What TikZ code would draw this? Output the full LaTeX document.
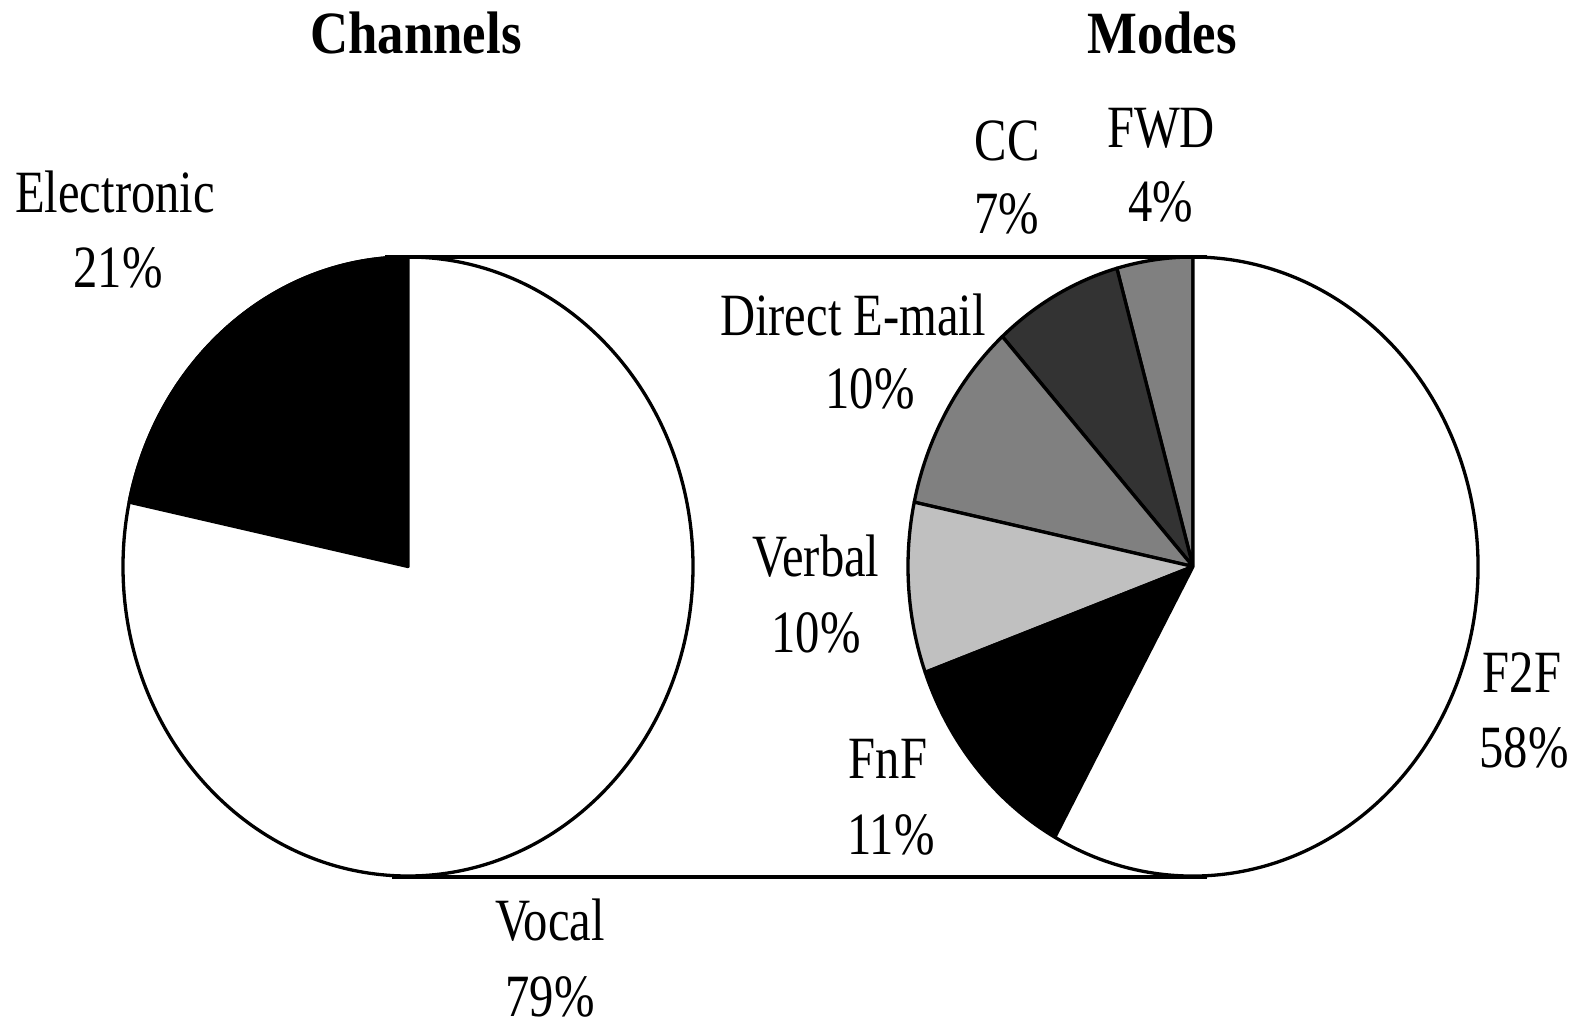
\documentclass[tikz,border=0pt]{standalone}
\usepackage{fontspec}
\setmainfont{Liberation Serif}
\usepackage{graphicx}
\definecolor{gmid}{gray}{0.502}
\definecolor{gdark}{gray}{0.2}
\definecolor{glight}{gray}{0.753}
\newcommand\nar[1]{\scalebox{0.81}[1]{#1}}
\newcommand\narb[1]{\scalebox{0.88}[1]{#1}}
\newcommand\pieslice[4]{\filldraw[pieline, fill=#4] (#1) -- ++(#2:285pt and 309.5pt) arc[start angle=#2, end angle=#3, x radius=285pt, y radius=309.5pt] -- cycle;}
\tikzset{
  lbl/.style={font=\fontsize{60}{75}\selectfont, anchor=base, inner sep=0pt},
  ttl/.style={font=\fontsize{60}{75}\selectfont\bfseries, anchor=base, inner sep=0pt},
  pieline/.style={line width=3.3pt, line join=round, draw=black},
}
\begin{document}
\begin{tikzpicture}[x=1pt,y=1pt]
\useasboundingbox[fill=white] (0,0) rectangle (1583,-1018);
\coordinate (L) at (408,-566.5);
\coordinate (R) at (1193,-566.5);
% left pie (Channels)
\filldraw[pieline, fill=white] (L) ellipse [x radius=285pt, y radius=309.5pt];
\pieslice{L}{90}{168}{black}
% right pie (Modes)
\pieslice{R}{90}{105.5}{gmid}
\pieslice{R}{105.5}{132}{gdark}
\pieslice{R}{132}{168}{gmid}
\pieslice{R}{168}{200}{glight}
\pieslice{R}{200}{241}{black}
\pieslice{R}{241}{450}{white}
% connecting lines
\coordinate (t1) at (385,-257);
\coordinate (t2) at (1207,-257);
\coordinate (b1) at (392,-877);
\coordinate (b2) at (1207,-877);
\draw[pieline] (t1) -- (t2);
\draw[pieline] (b1) -- (b2);
% titles
\node[ttl] (chan) at (416,-53) {\narb{Channels}};
\node[ttl] (mode) at (1162,-53) {\narb{Modes}};
% labels
\node[lbl] (el1) at (115,-212) {\nar{Electronic}};
\node[lbl] (el2) at (118,-287) {\nar{21\%}};
\node[lbl] (vo1) at (550,-940) {\nar{Vocal}};
\node[lbl] (vo2) at (550,-1016) {\nar{79\%}};
\node[lbl] (cc1) at (1007,-160) {\nar{CC}};
\node[lbl] (cc2) at (1007,-233) {\nar{7\%}};
\node[lbl] (fw1) at (1161,-147) {\nar{FWD}};
\node[lbl] (fw2) at (1161,-221) {\nar{4\%}};
\node[lbl] (de1) at (853,-335) {\nar{Direct E-mail}};
\node[lbl] (de2) at (870,-408) {\nar{10\%}};
\node[lbl] (ve1) at (816,-576) {\nar{Verbal}};
\node[lbl] (ve2) at (816,-652) {\nar{10\%}};
\node[lbl] (fn1) at (888,-778) {\nar{FnF}};
\node[lbl] (fn2) at (891,-854) {\nar{11\%}};
\node[lbl] (ff1) at (1522,-692) {\nar{F2F}};
\node[lbl] (ff2) at (1524,-767) {\nar{58\%}};
\end{tikzpicture}
\end{document}
